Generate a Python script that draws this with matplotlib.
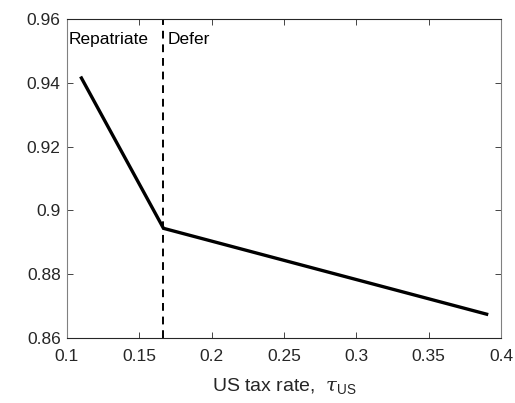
import matplotlib
matplotlib.use("Agg")
import matplotlib.pyplot as plt

# data
tax_rate = [0.11, 0.1667, 0.39]
value = [0.9415, 0.8944, 0.8675]
cutoff = 0.1667

x_ticks = [0.1, 0.15, 0.2, 0.25, 0.3, 0.35, 0.4]
x_tick_labels = ["0.1", "0.15", "0.2", "0.25", "0.3", "0.35", "0.4"]
y_ticks = [0.86, 0.88, 0.9, 0.92, 0.94, 0.96]
y_tick_labels = ["0.86", "0.88", "0.9", "0.92", "0.94", "0.96"]

plt.rcParams["font.family"] = ["Liberation Sans", "DejaVu Sans"]
plt.rcParams["mathtext.fontset"] = "custom"
plt.rcParams["mathtext.rm"] = "Liberation Sans"
plt.rcParams["mathtext.it"] = "DejaVu Serif:italic"

fig = plt.figure(figsize=(5.15, 4.03), dpi=100)
ax = fig.add_axes([0.130, 0.161, 0.843, 0.792])

ax.plot(tax_rate, value, color="black", lw=2.4, solid_joinstyle="miter")
ax.axvline(cutoff, color="black", lw=1.4, ls=(0, (4, 3)))

ax.set_xlim(0.1, 0.4)
ax.set_ylim(0.86, 0.96)
ax.set_xticks(x_ticks)
ax.set_xticklabels(x_tick_labels)
ax.set_yticks(y_ticks)
ax.set_yticklabels(y_tick_labels)

ax.tick_params(direction="in", length=4, width=0.6, colors="#262626",
               labelsize=12.5, top=True, right=True)
ax.tick_params(axis="x", pad=7.5)
ax.tick_params(axis="y", pad=4.5)
for side in ("top", "bottom"):
    ax.spines[side].set_color("#262626")
    ax.spines[side].set_linewidth(0.8)
for side in ("left", "right"):
    ax.spines[side].set_color("#808080")
    ax.spines[side].set_linewidth(0.8)

ax.text(0.1013, 0.9535, "Repatriate", fontsize=12.5, va="center", ha="left")
ax.text(0.1695, 0.9535, "Defer", fontsize=12.5, va="center", ha="left")

ax.set_xlabel(r"US tax rate,  $\tau_{\mathrm{US}}$", fontsize=14, color="#262626", labelpad=9)

fig.savefig("out.png", dpi=100)
